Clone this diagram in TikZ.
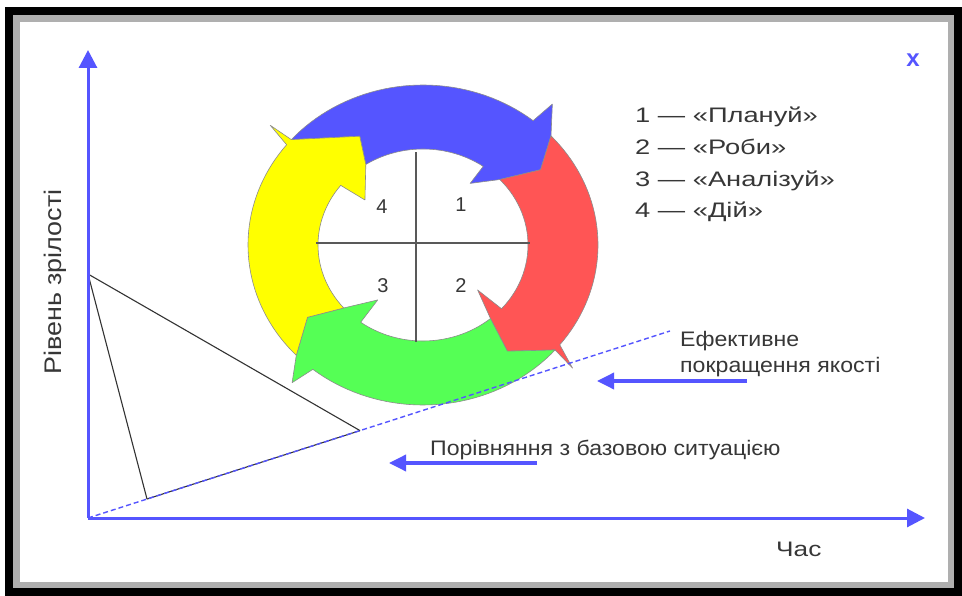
\documentclass[tikz,border=0pt]{standalone}
\usepackage{fontspec}
\setmainfont{Liberation Sans}
\usepackage{graphicx}
\usetikzlibrary{arrows.meta}
\definecolor{axisblue}{RGB}{85,85,255}
\definecolor{arrblue}{RGB}{85,85,255}
\definecolor{arrred}{RGB}{255,85,85}
\definecolor{arrgreen}{RGB}{85,255,85}
\definecolor{arryellow}{RGB}{255,255,0}
\definecolor{txtgray}{RGB}{55,55,55}
\definecolor{framegray}{RGB}{175,175,175}
\begin{document}
\begin{tikzpicture}[x=1pt,y=-1pt,
  axisline/.style={axisblue, line width=3pt, -{Triangle[length=18pt,width=18pt]}},
  pointer/.style={axisblue, line width=3.5pt, -{Triangle[length=17pt,width=16pt]}},
  cyclearrow/.style={draw=black!45, line width=0.6pt, line join=round},
  crossline/.style={draw=black!65, line width=1.3pt},
  thinline/.style={draw=black!80, line width=1.1pt},
  legend/.style={text=txtgray, font=\fontsize{21}{25}\selectfont, inner sep=0pt},
  numlabel/.style={text=txtgray, font=\fontsize{20}{24}\selectfont, inner sep=0pt},
  lbl/.style={text=txtgray, font=\fontsize{21}{25}\selectfont, inner sep=0pt}]
\useasboundingbox (0,0) rectangle (962,596);
% frame
\fill[black] (5,7) rectangle (962,596);
\fill[framegray] (13,15) rectangle (954,588);
\fill[white] (20,22) rectangle (948,582);

% cycle diagram
\begin{scope}[shift={(423,245)}, x=175pt, y=160pt]
  % blue (1)
  \filldraw[cyclearrow, fill=arrblue] (138.8:1) -- plot[domain=138.8:51,samples=40] (\x:1)
    -- (50:1.15) -- (43:1) -- (35:0.82) -- (43:0.6) -- (55:0.47) -- (55:0.6)
    -- plot[domain=55:123,samples=30] (\x:0.6) -- (118:0.77) -- cycle;
  % red (2)
  \filldraw[cyclearrow, fill=arrred] (43:1) -- plot[domain=43:-38.6,samples=40] (\x:1)
    -- (-42:1.15) -- (-41:1) -- (-54:0.82) -- (-50:0.6) -- (-42:0.42) -- (-41.6:0.6)
    -- plot[domain=-41.6:43,samples=30] (\x:0.6) -- (35:0.82) -- cycle;
  % green (3)
  \filldraw[cyclearrow, fill=arrgreen] (-41:1) -- plot[domain=-41:-129,samples=40] (\x:1)
    -- (-131:1.14) -- (-136.4:1) -- (-145.6:0.8) -- (-139:0.6) -- (-127:0.43) -- (-126.4:0.6)
    -- plot[domain=-126.4:-50,samples=30] (\x:0.6) -- (-54:0.82) -- cycle;
  % yellow (4)
  \filldraw[cyclearrow, fill=arryellow] (223.6:1) -- plot[domain=223.6:141.2,samples=40] (\x:1)
    -- (139.4:1.15) -- (138.8:1) -- (118:0.77) -- (123:0.6) -- (139.7:0.435) -- (141.6:0.6)
    -- plot[domain=141.6:221,samples=30] (\x:0.6) -- (214.4:0.8) -- cycle;
  % cross
  \coordinate (vt) at (-0.04,0.581);
  \coordinate (vb) at (-0.04,-0.606);
  \coordinate (hl) at (-0.609,0.0125);
  \coordinate (hr) at (0.611,0.0125);
  \draw[crossline] (vt) -- (vb);
  \draw[crossline] (hl) -- (hr);
\end{scope}
\node[numlabel, anchor=base] (n1) at (461,212) {1};
\node[numlabel, anchor=base] (n2) at (461,293) {2};
\node[numlabel, anchor=base] (n3) at (383,293) {3};
\node[numlabel, anchor=base] (n4) at (382,214) {4};

% axes
\coordinate (O) at (88,518);
\coordinate (Ytop) at (88,50);
\coordinate (Xend) at (925,518);
\coordinate (A) at (88,274);
\coordinate (P1) at (147,499);
\coordinate (P2) at (360,430.6);
\coordinate (Lend) at (670,331);
\draw[thinline] (A) -- (P1);
\draw[thinline] (A) -- (P2);
\draw[thinline] (P1) -- (P2);
\draw[axisblue, line width=1.4pt, dash pattern=on 5pt off 3pt] (O) -- (Lend);
\draw[axisline] (O) -- (Ytop);
\draw[axisline] (O) -- (Xend);

% labels
\node[lbl, rotate=90, anchor=base] (ylab) at (61,282) {\fontsize{24}{28}\selectfont\scalebox{1.12}[1]{Рівень зрілості}};
\node[lbl, anchor=base west] (xlab) at (776,556) {\scalebox{1.25}[1]{Час}};
\node[text=axisblue, font=\bfseries\fontsize{24}{28}\selectfont, inner sep=0pt] (close) at (913,60) {x};

\node[legend, anchor=base west] (l1) at (635,123) {\scalebox{1.3}[1]{1 — «Плануй»}};
\node[legend, anchor=base west] (l2) at (635,155) {\scalebox{1.3}[1]{2 — «Роби»}};
\node[legend, anchor=base west] (l3) at (635,187) {\scalebox{1.3}[1]{3 — «Аналізуй»}};
\node[legend, anchor=base west] (l4) at (635,218) {\scalebox{1.3}[1]{4 — «Дій»}};

\node[lbl, anchor=base west] (eff1) at (680,347) {\scalebox{1.1}[1]{Ефективне}};
\node[lbl, anchor=base west] (eff2) at (680,372) {\scalebox{1.1}[1]{покращення якості}};
\node[lbl, anchor=base west] (base) at (430,455) {\scalebox{1.1}[1]{Порівняння з базовою ситуацією}};

\coordinate (e1s) at (747,381);
\coordinate (e1e) at (597,381);
\coordinate (e2s) at (537,463);
\coordinate (e2e) at (389,463);
\draw[pointer] (e1s) -- (e1e);
\draw[pointer] (e2s) -- (e2e);
\end{tikzpicture}
\end{document}
